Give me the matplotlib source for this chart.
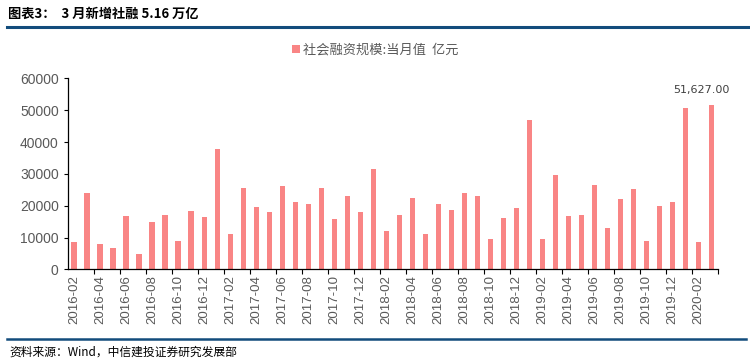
import matplotlib
matplotlib.use("Agg")
import matplotlib.pyplot as plt

plt.rcParams['font.family'] = ['Liberation Sans', 'Noto Sans CJK SC', 'DejaVu Sans']

# monthly social financing increments, 2016-02 .. 2020-03 (亿元)
months = []
for y in range(2016, 2021):
    for m in range(1, 13):
        months.append(f"{y}-{m:02d}")
months = months[months.index("2016-02"):months.index("2020-03") + 1]

values = [
    8480, 23980, 7960, 6810, 16650, 4920, 14760, 17170, 8900, 18430,
    16330, 37800, 11200, 25650, 19690, 17900, 26070, 21260, 20630, 25550,
    15920, 23040, 18120, 31520, 12150, 17170, 22410, 11200, 20520, 18530,
    24080, 23140, 9530, 16230, 19370, 46910, 9630, 29740, 16860, 17170,
    26390, 12880, 22090, 25340, 8800, 20000, 21150, 50680, 8554, 51627,
]

series_name = "社会融资规模:当月值  亿元"
title = "图表3：  3 月新增社融 5.16 万亿"
source = "资料来源：Wind，中信建投证券研究发展部"

bar_color = "#F98585"
text_gray = "#595959"
navy = "#124C7C"

fig = plt.figure(figsize=(7.5, 3.63), dpi=100)
ax = fig.add_axes([0.0903, 0.258, 0.957 - 0.0903, 0.784 - 0.258])

x = list(range(len(values)))
ax.bar(x, values, width=0.42, color=bar_color, label=series_name)

ax.set_xlim(-0.5, len(values) - 0.5)
ax.set_ylim(0, 60000)
ax.set_yticks(range(0, 60001, 10000))
ax.tick_params(axis='y', labelsize=10, labelcolor=text_gray, color='black',
               length=3, width=0.8)

# labels every two months, tick marks between categories
ax.set_xticks(x[::2])
ax.set_xticklabels(months[::2], rotation=90, fontsize=9.5, color=text_gray)
ax.tick_params(axis='x', which='major', length=0, pad=4)
ax.set_xticks([i + 1.5 for i in x[::2]], minor=True)
ax.tick_params(axis='x', which='minor', length=3.5, width=0.8, color='black')

for s in ['top', 'right']:
    ax.spines[s].set_visible(False)
ax.spines['left'].set_linewidth(0.9)
ax.spines['bottom'].set_linewidth(0.9)

ax.annotate(f"{values[-1]:,.2f}", (x[-1], values[-1]), xytext=(-7, 7),
            textcoords='offset points', ha='center', va='bottom',
            fontsize=8, color='#404040', family='DejaVu Sans')

fig.legend(loc='center', bbox_to_anchor=(0.5, 0.862), frameon=False,
           handlelength=0.6, handleheight=0.6, handletextpad=0.2,
           prop={'family': ['Noto Sans CJK SC'], 'size': 9.5},
           labelcolor=text_gray)

fig.text(0.01, 0.962, title, fontsize=9.5, fontweight='bold',
         family=['Noto Sans CJK SC'], va='center', ha='left')
fig.add_artist(plt.Line2D([0.009, 1.0], [0.926, 0.926], color=navy, lw=2.2))
fig.add_artist(plt.Line2D([0.009, 0.995], [0.066, 0.066], color=navy, lw=1.8))
fig.text(0.012, 0.031, source, fontsize=8.5, style='italic',
         family=['Noto Sans CJK SC'], va='center', ha='left')

fig.savefig("out.png", dpi=100)
